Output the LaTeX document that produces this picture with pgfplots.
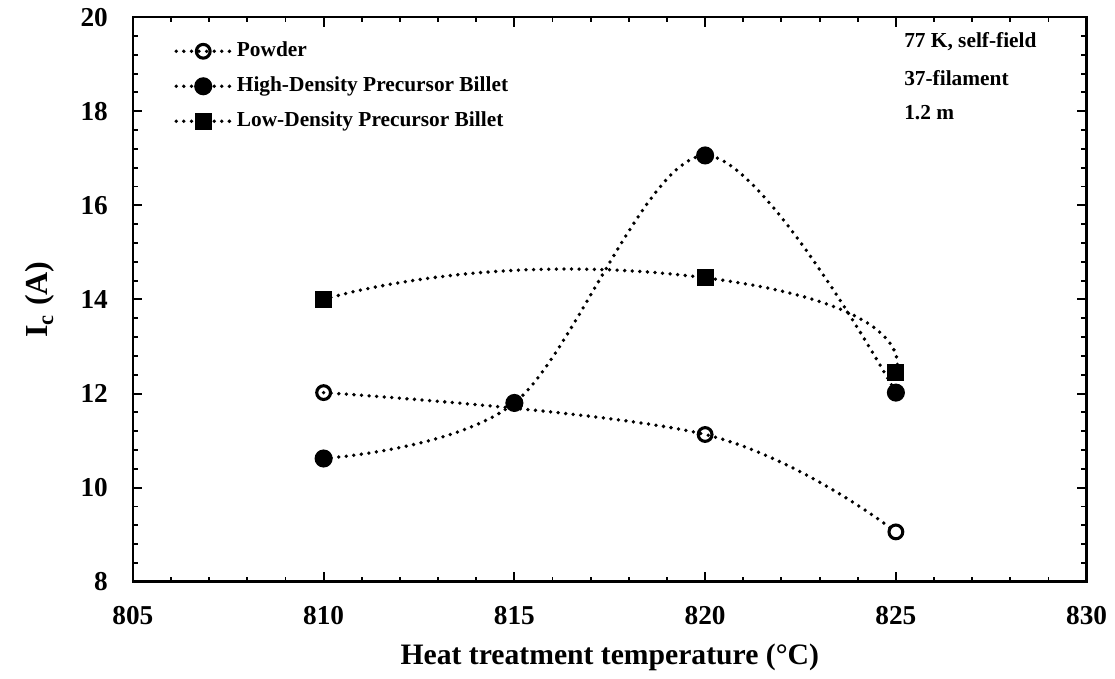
\documentclass[border=0pt]{standalone}
\usepackage{fontspec}
\setmainfont{Liberation Serif}
\usepackage{pgfplots}
\pgfplotsset{compat=1.18}

\begin{document}
\begin{tikzpicture}[font=\bfseries]
\begin{axis}[
  scale only axis,
  width=402pt, height=238pt,
  xmin=805, xmax=830,
  ymin=8, ymax=20,
  xtick={805,810,...,830},
  ytick={8,10,...,20},
  minor x tick num=4,
  minor y tick num=4,
  tick align=inside,
  major tick length=4pt,
  minor tick length=2.2pt,
  tick style={black, line width=0.8pt},
  axis line style={line width=1.1pt},
  /pgf/number format/assume math mode=true,
  /pgf/number format/1000 sep={},
  ticklabel style={font=\bfseries\fontsize{11.5}{13}\selectfont},
  xticklabel style={yshift=-7pt},
  yticklabel style={xshift=-7pt},
  xlabel={Heat treatment temperature (°C)},
  ylabel={I\textsubscript{c} (A)},
  xlabel style={font=\bfseries\fontsize{12.5}{15}\selectfont, yshift=-1pt},
  ylabel style={font=\bfseries\fontsize{13.5}{16}\selectfont, yshift=4pt},
  legend cell align=left,
  legend style={at={(0.043,0.965)}, anchor=north west, draw=none, fill=none,
    font=\bfseries\fontsize{9}{10}\selectfont, row sep=3pt, inner sep=0pt},
  legend image code/.code={
    \draw[mark repeat=2, mark phase=2]
      plot coordinates {(0cm,0cm) (0.4cm,0cm) (0.8cm,0cm)};},
  every axis plot/.append style={black, line width=1.6pt,
    dash pattern=on 0pt off 3.2pt, line cap=round},
]
\addplot[smooth, tension=0.6, mark=o, mark size=2.9pt,
  mark options={solid, line width=1.3pt, fill=white}]
  coordinates {(810,12.02) (820,11.13) (825,9.06)};
\addlegendentry{Powder}
\addplot[smooth, tension=0.55, mark=*, mark size=3pt, mark options={solid}]
  coordinates {(810,10.62) (815,11.80) (820,17.06) (825,12.02)};
\addlegendentry{High-Density Precursor Billet}
\addplot[smooth, tension=1.4, mark=square*, mark size=2.8pt, mark options={solid}]
  coordinates {(810,14.00) (820,14.46) (825,12.44)};
\addlegendentry{Low-Density Precursor Billet}
\begin{scope}[font=\bfseries\fontsize{9}{10}\selectfont]
\node[anchor=west] at (axis cs:825.0,19.47) {77 K, self-field};
\node[anchor=west] at (axis cs:825.0,18.70) {37-filament};
\node[anchor=west] at (axis cs:825.0,17.97) {1.2 m};
\end{scope}
\end{axis}
\path (-56pt,-40pt) (411.7pt,244.3pt);
\end{tikzpicture}
\end{document}
